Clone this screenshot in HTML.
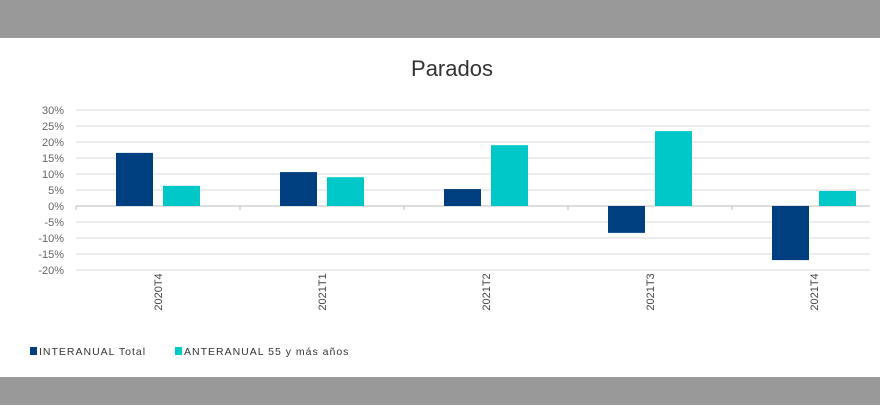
<!DOCTYPE html>
<html><head><meta charset="utf-8"><style>
body{margin:0;width:880px;height:405px;overflow:hidden;background:#fff;font-family:"Liberation Sans",sans-serif}
</style></head><body>
<svg width="880" height="405">
<rect x="0" y="0" width="880" height="38" fill="#999"/>
<rect x="0" y="377" width="880" height="28" fill="#999"/>
<text x="452" y="76" text-anchor="middle" font-size="22" fill="#333">Parados</text>
<g id="grid"></g><g id="bars"></g><g id="labels"></g>
<g>
<rect x="30" y="347" width="7" height="8" fill="#003f7f"/>
<text x="39" y="355" font-size="10.5" letter-spacing="1" fill="#333">INTERANUAL Total</text>
<rect x="175" y="347" width="7" height="8" fill="#00c8c8"/>
<text x="184" y="355" font-size="10.5" letter-spacing="1" fill="#333">ANTERANUAL 55 y más años</text>
</g>
</svg>
<script>
const categories=["2020T4","2021T1","2021T2","2021T3","2021T4"];
const totalValues=[16.6,10.6,5.3,-8.4,-16.9];
const age55Values=[6.3,9.0,19.0,23.4,4.7];
const tickValues=[30,25,20,15,10,5,0,-5,-10,-15,-20];
const ns="http://www.w3.org/2000/svg";
const x0=76,cw=164,y0=206,k=3.2;
const Y=v=>y0-v*k;
function mk(t,a,p){const e=document.createElementNS(ns,t);for(const n in a)e.setAttribute(n,a[n]);p.appendChild(e);return e;}
const g=document.getElementById('grid'),b=document.getElementById('bars'),l=document.getElementById('labels');
tickValues.forEach(v=>{
 const ln=mk('line',{x1:x0,x2:870,y1:Y(v),y2:Y(v),stroke:v===0?'#bbb':'#d9d9d9','stroke-width':1},g);
 
 
 const t=mk('text',{x:64,y:Y(v)+4,'text-anchor':'end','font-size':11,fill:'#666'},g);
 t.textContent=v+'%';
 
 
});
for(let i=0;i<=5;i++){const tk=mk('line',{x1:x0+i*cw,x2:x0+i*cw,y1:y0,y2:y0+4,stroke:'#bbb'},g);
 
 }
categories.forEach((c,i)=>{
 const cx=x0+i*cw;
 const v1=totalValues[i],v2=age55Values[i];
 const r1=mk('rect',{x:cx+40,width:37,y:Math.min(Y(v1),y0),height:Math.abs(v1*k),fill:'#003f7f'},b);
 
 
 const r2=mk('rect',{x:cx+87,width:37,y:Math.min(Y(v2),y0),height:Math.abs(v2*k),fill:'#00c8c8'},b);
 
 
 const t=mk('text',{transform:`translate(${cx+86},292) rotate(-90)`,'text-anchor':'middle','font-size':11,fill:'#444'},l);
 t.textContent=c;
 
 
});
</script>
</body></html>
